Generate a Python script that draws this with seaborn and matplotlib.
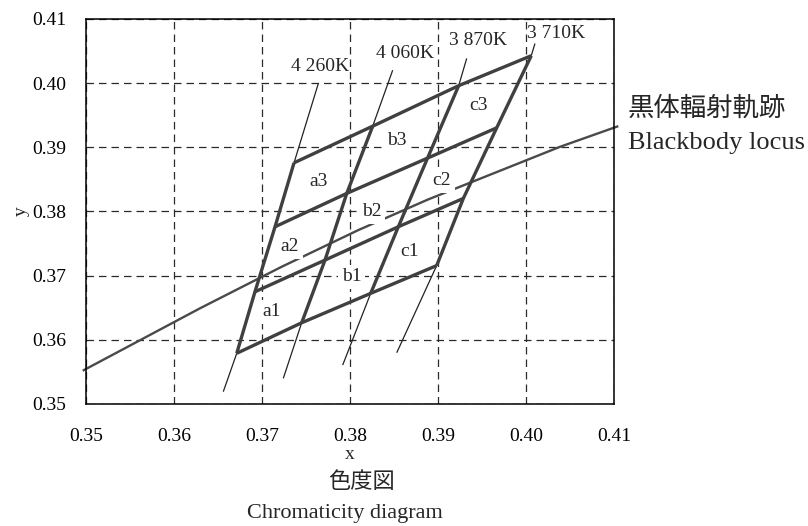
import matplotlib
matplotlib.use("Agg")
import matplotlib.pyplot as plt
import seaborn as sns

# ---------------- data ----------------
# quadrangle vertices: rows (from bottom) crossing isotherms 4260K, 4060K, 3870K, 3710K
row0_x = [0.36713, 0.37451, 0.38235, 0.38985]
row0_y = [0.35790, 0.36266, 0.36724, 0.37157]
row1_x = [0.36920, 0.37716, 0.38549, 0.39288]
row1_y = [0.36749, 0.37243, 0.37762, 0.38204]
row2_x = [0.37148, 0.37963, 0.38881, 0.39667]
row2_y = [0.37762, 0.38282, 0.38832, 0.39304]
row3_x = [0.37364, 0.38258, 0.39235, 0.40060]
row3_y = [0.38759, 0.39330, 0.39961, 0.40428]

# thin isotherm extensions below the grid
low_ext_x = [0.36560, 0.37242, 0.37917, 0.38531]
low_ext_y = [0.35192, 0.35400, 0.35607, 0.35799]
# thin leader lines up to the CCT labels
up_ext_x = [0.37640, 0.38485, 0.39326, 0.40102]
up_ext_y = [0.39995, 0.40202, 0.40385, 0.40618]

cct_labels = ["4 260K", "4 060K", "3 870K", "3 710K"]
cct_label_x = [0.37662, 0.38629, 0.39452, 0.40345]
cct_label_y = [0.40254, 0.40462, 0.40667, 0.40774]

cell_names = ["a1", "a2", "a3", "b1", "b2", "b3", "c1", "c2", "c3"]
cell_x = [0.37110, 0.37318, 0.37640, 0.38019, 0.38247, 0.38531, 0.38682, 0.39042, 0.39458]
cell_y = [0.36438, 0.37450, 0.38463, 0.36983, 0.37995, 0.39101, 0.37372, 0.38478, 0.39657]

# blackbody (Planckian) locus
locus_x = [0.34963, 0.36295, 0.37224, 0.38094, 0.38890, 0.40386, 0.41049]
locus_y = [0.35519, 0.36491, 0.37139, 0.37710, 0.38189, 0.39008, 0.39330]

ticks = [0.35, 0.36, 0.37, 0.38, 0.39, 0.40, 0.41]
tick_labels = ["0.35", "0.36", "0.37", "0.38", "0.39", "0.40", "0.41"]

# ---------------- figure ----------------
sns.set_style("white")
plt.rcParams['font.family'] = ['Liberation Serif', 'DejaVu Sans']
JP = ['Noto Sans CJK JP', 'DejaVu Sans']

fig = plt.figure(figsize=(8.08, 5.26), dpi=100)
ax = fig.add_axes([86 / 808, 1 - 404 / 526, 528 / 808, 385 / 526])

THICK = '#404040'
THIN = '#222222'


def draw(xs, ys, lw, color, z, clip=True):
    sns.lineplot(x=xs, y=ys, sort=False, estimator=None, ax=ax,
                 color=color, linewidth=lw, zorder=z, legend=False)
    ln = ax.lines[-1]
    ln.set_clip_on(clip)
    ln.set_solid_capstyle('butt')
    ln.set_solid_joinstyle('miter')


# blackbody locus
draw(locus_x, locus_y, 1.7, '#4a4a4a', 2, clip=False)

rows_x = [row0_x, row1_x, row2_x, row3_x]
rows_y = [row0_y, row1_y, row2_y, row3_y]

# rows (thick)
for rx, ry in zip(rows_x, rows_y):
    draw(rx, ry, 2.4, THICK, 4)

# isotherms (thick) and thin extensions
for j in range(4):
    ix = [r[j] for r in rows_x]
    iy = [r[j] for r in rows_y]
    draw(ix, iy, 2.4, THICK, 4)
    draw([low_ext_x[j], row0_x[j]], [low_ext_y[j], row0_y[j]], 0.9, THIN, 3)
    draw([row3_x[j], up_ext_x[j]], [row3_y[j], up_ext_y[j]], 0.9, THIN, 3)

for t, x, y in zip(cct_labels, cct_label_x, cct_label_y):
    ax.text(x, y, t, ha='center', va='center', fontsize=14, zorder=5)

for t, x, y in zip(cell_names, cell_x, cell_y):
    ax.text(x, y, t, ha='center', va='center', fontsize=14, zorder=3.5,
            bbox=dict(facecolor='white', edgecolor='none', pad=2.5))

ax.set_xlim(0.35, 0.41)
ax.set_ylim(0.35, 0.41)
ax.set_xticks(ticks)
ax.set_xticklabels(tick_labels)
ax.set_yticks(ticks)
ax.set_yticklabels(tick_labels)
ax.tick_params(axis='both', length=0, labelsize=14, colors='black')
ax.tick_params(axis='x', pad=17)
ax.tick_params(axis='y', pad=14)
ax.grid(True, linestyle=(0, (6, 4)), color='#2a2a2a', linewidth=0.9, zorder=0.5)
ax.set_axisbelow(True)
for s in ax.spines.values():
    s.set_color('black')
    s.set_linewidth(1.1)
    s.set_visible(True)

ax.set_xlabel('x', fontsize=14, labelpad=1)
ax.set_ylabel('y', fontsize=14, labelpad=2)

fig.text(361.7 / 808, 1 - 481.7 / 526, '色度図', family=JP, fontsize=16,
         ha='center', va='center')
fig.text(345 / 808, 1 - 513.3 / 526, 'Chromaticity diagram', fontsize=16,
         ha='center', va='center')
fig.text(628 / 808, 1 - 108.3 / 526, '黒体輻射軌跡', family=JP, fontsize=19,
         ha='left', va='center')
fig.text(628 / 808, 1 - 143.3 / 526, 'Blackbody locus', fontsize=19,
         ha='left', va='center')

fig.savefig('out.png', dpi=100)
